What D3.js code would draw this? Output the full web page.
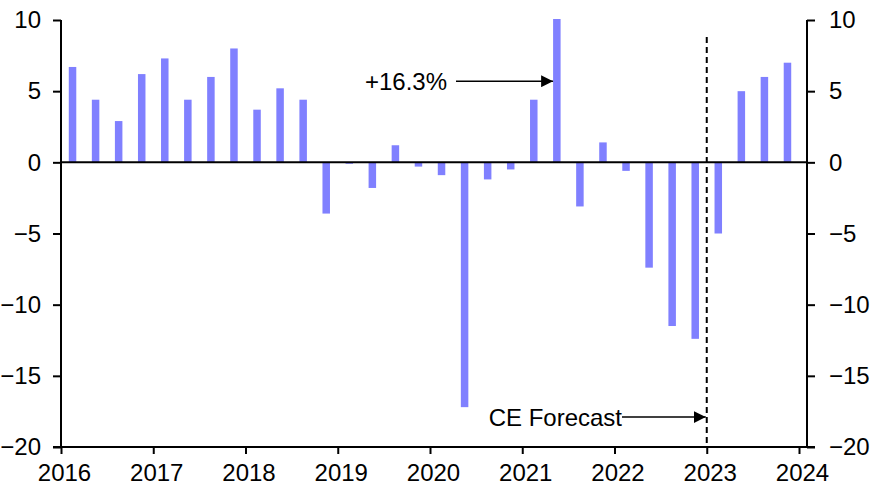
<!DOCTYPE html>
<html>
<head>
<meta charset="utf-8">
<script src="https://cdn.jsdelivr.net/npm/d3@7"></script>
<style>
  body { margin: 0; background: #fff; }
  text { font-family: "Liberation Sans", Arial, sans-serif; fill: #000; }
</style>
</head>
<body>
<div id="chart"></div>
<script>
// quarterly values, 2016 Q1 .. 2023 Q4 (2023 = CE forecast)
const years = [2016, 2017, 2018, 2019, 2020, 2021, 2022, 2023];
const quarters = [1, 2, 3, 4];
const values = [
  6.7, 4.4, 2.9, 6.2,
  7.3, 4.4, 6.0, 8.0,
  3.7, 5.2, 4.4, -3.6,
  -0.1, -1.8, 1.2, -0.3,
  -0.9, -17.2, -1.2, -0.5,
  4.4, 16.3, -3.1, 1.4,
  -0.6, -7.4, -11.5, -12.4,
  -5.0, 5.0, 6.0, 7.0
];
const yTicks = [10, 5, 0, -5, -10, -15, -20];
const xTicks = [2016, 2017, 2018, 2019, 2020, 2021, 2022, 2023, 2024];
const forecastStart = 2023;
const peakLabel = "+16.3%";
const forecastLabel = "CE Forecast";

const data = values.map((v, i) => ({
  t: years[Math.floor(i / 4)] + (quarters[i % 4] - 1) / 4 + 0.125,
  v: v
}));

const W = 886, H = 494;
const plotLeft = 61, plotRight = 807, plotTop = 20, plotBottom = 447;

const x = d3.scaleLinear().domain([2016, 2024]).range([plotLeft, 799]);
const y = d3.scaleLinear().domain([-20, 10]).range([plotBottom, plotTop]);

const svg = d3.select("#chart").append("svg")
  .attr("width", W)
  .attr("height", H);

// clip so the 2021 spike stops at the top of the plot
svg.append("clipPath").attr("id", "plot")
  .append("rect")
  .attr("x", plotLeft).attr("y", plotTop - 1)
  .attr("width", plotRight - plotLeft).attr("height", plotBottom - plotTop + 1);

const barW = 7.5;
svg.append("g").attr("clip-path", "url(#plot)")
  .selectAll("rect.bar")
  .data(data)
  .join("rect")
  .attr("class", "bar")
  .attr("x", d => x(d.t) - barW / 2)
  .attr("y", d => y(Math.max(0, d.v)))
  .attr("width", barW)
  .attr("height", d => Math.abs(y(d.v) - y(0)))
  .attr("fill", "#8080FF");

// zero line
svg.append("line")
  .attr("x1", plotLeft).attr("x2", plotRight)
  .attr("y1", y(0)).attr("y2", y(0))
  .attr("stroke", "#000").attr("stroke-width", 2);

// axes
const yLeft = svg.append("g")
  .attr("transform", `translate(${plotLeft},0)`)
  .call(d3.axisLeft(y).tickValues(yTicks).tickSize(8).tickPadding(12).tickFormat(d3.format("d")));
const yRight = svg.append("g")
  .attr("transform", `translate(${plotRight},0)`)
  .call(d3.axisRight(y).tickValues(yTicks).tickSize(8).tickPadding(14).tickFormat(d3.format("d")));
const xAxis = svg.append("g")
  .attr("transform", `translate(0,${plotBottom})`)
  .call(d3.axisBottom(x).tickValues(xTicks).tickSize(7).tickPadding(10).tickFormat(d3.format("d")));

[yLeft, yRight, xAxis].forEach(g => {
  g.select(".domain").remove();
  g.selectAll(".tick line").attr("stroke", "#000").attr("stroke-width", 2);
  g.selectAll(".tick text").style("font-size", "24px").attr("fill", "#000");
});
xAxis.selectAll(".tick text").attr("dx", 3);

// axis lines
svg.append("line").attr("x1", plotLeft).attr("x2", plotLeft).attr("y1", plotTop).attr("y2", plotBottom)
  .attr("stroke", "#000").attr("stroke-width", 2);
svg.append("line").attr("x1", plotRight).attr("x2", plotRight).attr("y1", plotTop).attr("y2", plotBottom)
  .attr("stroke", "#000").attr("stroke-width", 2);
svg.append("line").attr("x1", plotLeft - 8).attr("x2", plotRight + 8).attr("y1", plotBottom).attr("y2", plotBottom)
  .attr("stroke", "#000").attr("stroke-width", 2);

// forecast divider
svg.append("line")
  .attr("x1", x(forecastStart)).attr("x2", x(forecastStart))
  .attr("y1", y(8.8)).attr("y2", plotBottom)
  .attr("stroke", "#000").attr("stroke-width", 2)
  .attr("stroke-dasharray", "6,4");

// arrow marker
svg.append("defs").append("marker")
  .attr("id", "arrow")
  .attr("viewBox", "0 0 12 12")
  .attr("refX", 12).attr("refY", 6)
  .attr("markerWidth", 12).attr("markerHeight", 12)
  .attr("markerUnits", "userSpaceOnUse")
  .attr("orient", "auto")
  .append("path")
  .attr("d", "M0,0 L12,6 L0,12 Z")
  .attr("fill", "#000");

// +16.3% annotation
const peak = data[21];
svg.append("line")
  .attr("x1", 456).attr("x2", x(peak.t) - barW / 2)
  .attr("y1", y(5.7)).attr("y2", y(5.7))
  .attr("stroke", "#000").attr("stroke-width", 1.5)
  .attr("marker-end", "url(#arrow)");
svg.append("text")
  .attr("x", 447).attr("y", y(5.7))
  .attr("dy", "0.35em")
  .attr("text-anchor", "end")
  .style("font-size", "24px")
  .text(peakLabel);

// CE Forecast annotation
svg.append("line")
  .attr("x1", 622).attr("x2", x(forecastStart) - 1)
  .attr("y1", y(-17.9)).attr("y2", y(-17.9))
  .attr("stroke", "#000").attr("stroke-width", 1.5)
  .attr("marker-end", "url(#arrow)");
svg.append("text")
  .attr("x", 622).attr("y", y(-17.9))
  .attr("dy", "0.35em")
  .attr("text-anchor", "end")
  .style("font-size", "24px")
  .text(forecastLabel);
</script>
</body>
</html>
